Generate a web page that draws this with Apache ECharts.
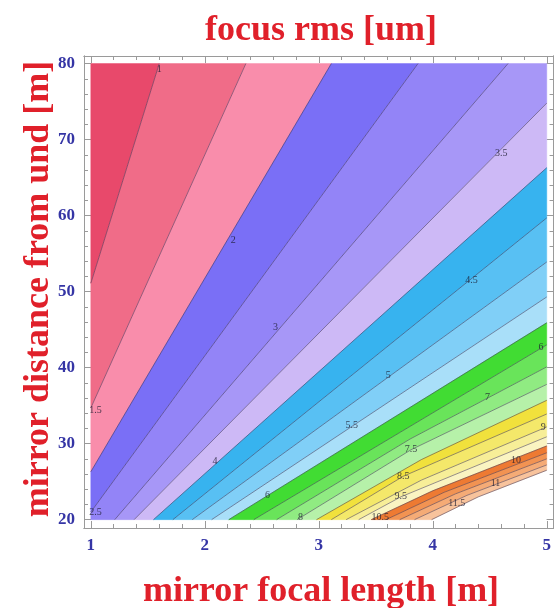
<!DOCTYPE html>
<html>
<head>
    <meta charset="utf-8">
    <title>focus rms</title>
    <script src="https://cdn.jsdelivr.net/npm/echarts@6/dist/echarts.min.js"></script>
    <style>
        html, body { margin: 0; padding: 0; background: #fff; }
    </style>
</head>
<body>
<div id="chart" style="width:554px;height:608px;"></div>
<script type="text/javascript">
    // contour levels (um) and the points where each contour line runs
    var levels = [1, 1.5, 2, 2.5, 3, 3.5, 4, 4.5, 5, 5.5, 6, 6.5, 7, 7.5, 8, 8.5, 9, 9.5, 10, 10.5, 11, 11.5, 12];
    var contourPts = [
        [[1.60, 80], [1.00, 51.1]],
        [[2.36, 80], [1.00, 34.7]],
        [[3.11, 80], [1.00, 26.3]],
        [[3.87, 80], [1.00, 21.0]],
        [[4.66, 80], [1.21, 20]],
        [[5, 74.8], [1.38, 20]],
        [[5, 66.3], [1.55, 20]],
        [[5, 59.7], [1.72, 20]],
        [[5, 53.9], [1.89, 20]],
        [[5, 49.3], [2.06, 20]],
        [[5, 45.9], [2.21, 20]],
        [[5, 43.0], [2.43, 20]],
        [[5, 40.1], [3.80, 30.6], [2.63, 20]],
        [[5, 37.8], [3.81, 29.2], [2.81, 20]],
        [[5, 35.7], [3.90, 27.9], [2.98, 20]],
        [[5, 33.9], [3.74, 25.7], [3.11, 20]],
        [[5, 32.2], [3.90, 25.2], [3.24, 20]],
        [[5, 30.9], [3.72, 23.0], [3.35, 20]],
        [[5, 29.7], [4.00, 23.8], [3.46, 20]],
        [[5, 28.8], [4.10, 23.6], [3.59, 20]],
        [[5, 28.0], [4.20, 23.4], [3.71, 20]],
        [[5, 27.2], [4.30, 23.2], [3.84, 20]],
        [[5, 26.5], [4.40, 23.0], [3.99, 20]]
    ];
    // fill of each band: <1, 1-1.5, ... , 11.5-12 (above 12 is left blank)
    var bandColors = [
        '#e8496b', '#f06c88', '#f98dab',
        '#7a6ff6', '#9384f7', '#a797f7', '#cdb9f6',
        '#37b3ef', '#58c0f3', '#80cff7', '#a9dff9',
        '#41dc33', '#69e45a', '#90eb82', '#b6f1a9',
        '#f1e13c', '#f4e86a', '#f7ee98', '#faf4c2',
        '#ee7a32', '#f29352', '#f5ab76', '#f8c39c'
    ];
    var contourLabels = [
        [1.60, 79.3, '1'], [1.04, 34.4, '1.5'], [2.25, 56.8, '2'], [1.04, 21.0, '2.5'],
        [2.62, 45.3, '3'], [4.60, 68.2, '3.5'], [2.09, 27.6, '4'], [4.34, 51.5, '4.5'],
        [3.61, 39.0, '5'], [3.29, 32.4, '5.5'], [2.55, 23.2, '6'], [4.95, 42.7, '6'],
        [4.48, 36.1, '7'], [3.81, 29.2, '7.5'], [2.84, 20.3, '8'], [3.74, 25.7, '8.5'],
        [4.97, 32.1, '9'], [3.72, 23.0, '9.5'], [4.73, 27.8, '10'], [3.54, 20.3, '10.5'],
        [4.55, 24.8, '11'], [4.21, 22.2, '11.5']
    ];
    var xTicks = [1, 2, 3, 4, 5];
    var xMinor = [1.2, 1.4, 1.6, 1.8, 2.2, 2.4, 2.6, 2.8, 3.2, 3.4, 3.6, 3.8, 4.2, 4.4, 4.6, 4.8];
    var yTicks = [20, 30, 40, 50, 60, 70, 80];
    var yMinor = [22, 24, 26, 28, 32, 34, 36, 38, 42, 44, 46, 48, 52, 54, 56, 58, 62, 64, 66, 68, 72, 74, 76, 78];

    var frameColor = '#9a9a9a';
    var tickFont = {color: '#3535a5', fontWeight: 'bold', fontSize: 17, fontFamily: 'Liberation Serif'};

    // polygon of band k, between contour k-1 and contour k, following the frame corners
    function bandPoly(k) {
        if (k === 0) {
            return [[1, 80]].concat(contourPts[0]);
        }
        var upper = contourPts[k - 1], lower = contourPts[k];
        var pts = upper.slice();
        var ue = upper[upper.length - 1], le = lower[lower.length - 1];
        if (ue[0] === 1 && le[1] === 20) pts.push([1, 20]);
        pts = pts.concat(lower.slice().reverse());
        if (lower[0][0] === 5 && upper[0][1] === 80) pts.push([5, 80]);
        return pts;
    }

    function axis(dim, pos, ticks, len, labels) {
        var a = {
            type: 'value',
            position: pos,
            min: dim === 'x' ? 0.94 : 18.9,
            max: dim === 'x' ? 5.06 : 81.0,
            axisLine: {show: true, lineStyle: {color: frameColor, width: 1}},
            axisTick: {show: true, inside: true, length: len, customValues: ticks, lineStyle: {color: frameColor}},
            axisLabel: {show: labels, customValues: ticks, margin: 9},
            splitLine: {show: false}
        };
        if (labels) {
            for (var key in tickFont) a.axisLabel[key] = tickFont[key];
        }
        return a;
    }

    var series = [{
        type: 'custom',
        xAxisIndex: 0,
        yAxisIndex: 0,
        silent: true,
        z: 1,
        data: bandColors.map(function (c, i) { return i; }),
        renderItem: function (params, api) {
            var k = params.dataIndex;
            return {
                type: 'polygon',
                shape: {points: bandPoly(k).map(function (p) { return api.coord(p); })},
                style: {fill: bandColors[k], stroke: bandColors[k], lineWidth: 0.5}
            };
        }
    }];
    contourPts.forEach(function (pts, i) {
        series.push({
            type: 'line',
            name: 'c' + levels[i],
            data: pts,
            symbol: 'none',
            silent: true,
            z: 3,
            lineStyle: {color: 'rgba(45,35,70,0.55)', width: 0.9}
        });
    });
    series.push({
        type: 'scatter',
        data: contourLabels,
        symbolSize: 0,
        silent: true,
        z: 5,
        label: {
            show: true,
            position: 'inside',
            formatter: function (p) { return p.value[2]; },
            color: '#1c1c30',
            fontSize: 10,
            fontFamily: 'Liberation Serif'
        }
    });

    var myChart = echarts.init(document.getElementById('chart'));
    var option = {
        animation: false,
        grid: {left: 84, top: 56, width: 472, height: 472, containLabel: false},
        xAxis: [
            axis('x', 'bottom', xTicks, 7, true),
            axis('x', 'bottom', xMinor, 4, false),
            axis('x', 'top', xTicks, 7, false),
            axis('x', 'top', xMinor, 4, false)
        ],
        yAxis: [
            axis('y', 'left', yTicks, 7, true),
            axis('y', 'left', yMinor, 4, false),
            axis('y', 'right', yTicks, 7, false),
            axis('y', 'right', yMinor, 4, false)
        ],
        graphic: [
            {type: 'text', x: 321, y: 31, style: {text: 'focus rms [um]', align: 'center', verticalAlign: 'middle',
                font: 'bold 36px "Liberation Serif"', fill: '#e0202a'}},
            {type: 'text', x: 321, y: 592, style: {text: 'mirror focal length [m]', align: 'center', verticalAlign: 'middle',
                font: 'bold 36px "Liberation Serif"', fill: '#e0202a'}},
            {type: 'text', x: 39, y: 289, rotation: Math.PI / 2, style: {text: 'mirror distance from und [m]', align: 'center',
                verticalAlign: 'middle', font: 'bold 36px "Liberation Serif"', fill: '#e0202a'}}
        ],
        series: series
    };
    myChart.setOption(option);
</script>
</body>
</html>
